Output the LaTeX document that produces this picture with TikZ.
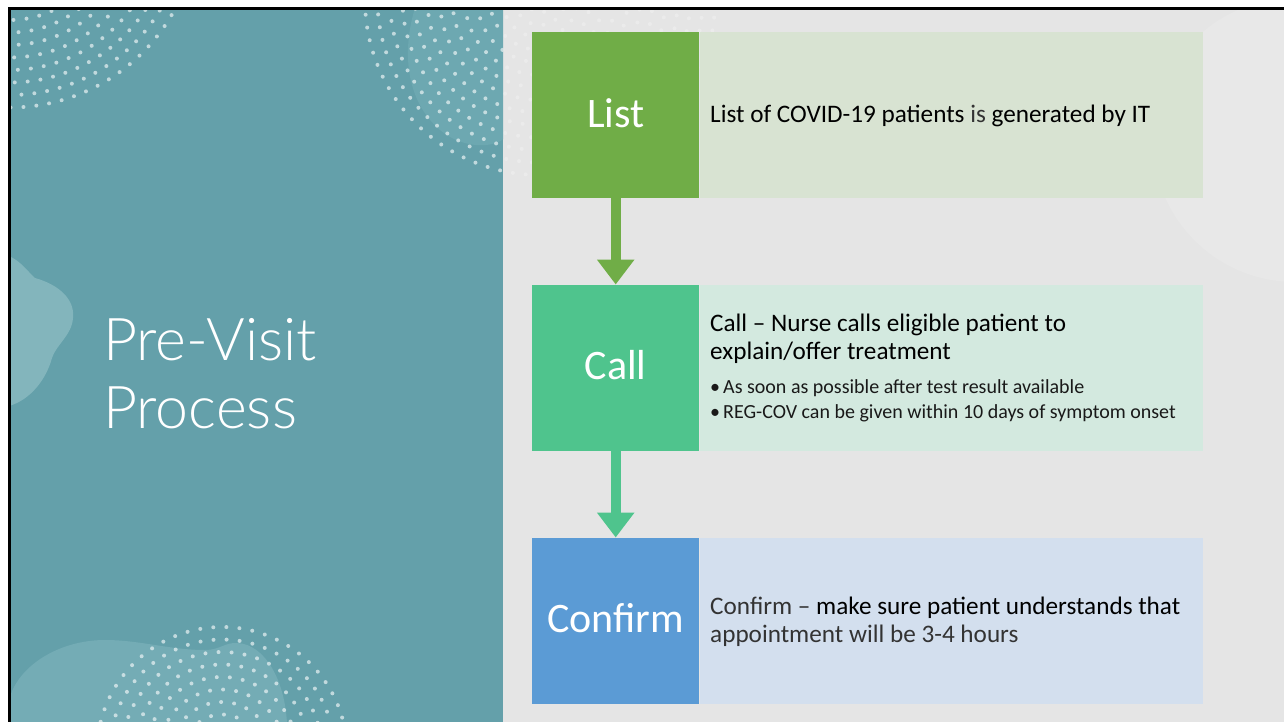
\documentclass[tikz,border=0pt]{standalone}
\usepackage{fontspec}
\setmainfont{Carlito}
\newfontfamily\titlefont{Lato Light}
\usetikzlibrary{arrows.meta}

\definecolor{slateteal}{HTML}{64A0AA}
\definecolor{blobteal}{HTML}{6DA8B1}
\definecolor{blobpale}{HTML}{83B5BC}
\definecolor{panelgray}{HTML}{E5E5E5}
\definecolor{panelglow}{HTML}{E8E8E8}
\definecolor{listdark}{HTML}{70AD47}
\definecolor{listlight}{HTML}{D8E3D2}
\definecolor{calldark}{HTML}{4FC48D}
\definecolor{calllight}{HTML}{D3E9DF}
\definecolor{confdark}{HTML}{5B9BD5}
\definecolor{conflight}{HTML}{D3DFEE}
\definecolor{softgray}{HTML}{333333}

% a disc of small dots laid out on concentric rings: centre x, centre y, ring count
\newcommand\dotdisc[3]{%
  \foreach \i in {1,...,#3} {
    \pgfmathsetmacro\rr{\i*12.5}
    \pgfmathtruncatemacro\nn{round(2*pi*\rr/13)}
    \pgfmathsetmacro\stp{360/\nn}
    \foreach \k in {1,...,\nn} {
      \pgfmathsetmacro\ang{\k*\stp+\i*11}
      \fill ({#1+\rr*cos(\ang)},{#2+\rr*sin(\ang)}) circle[radius=2];
    }
  }%
}

\tikzset{
  stepbox/.style={minimum width=167pt, minimum height=166pt, inner sep=0pt,
    text=white, font=\fontsize{42}{48}\selectfont, text height=24pt, text depth=0pt},
  descbox/.style={minimum width=503pt, minimum height=166pt, inner sep=0pt},
  desctext/.style={font=\fontsize{25.2}{29}\selectfont, inner sep=0pt, text=black},
  bullettext/.style={font=\fontsize{20}{24}\selectfont, inner sep=0pt, text=black!90},
  flowarrow/.style={line width=10pt, -{Triangle[width=36pt,length=25pt]}},
  titletext/.style={font=\titlefont\fontsize{59}{66}\selectfont, text=white, inner sep=0pt}
}

\begin{document}
\begin{tikzpicture}[x=1pt,y=-1pt]
\useasboundingbox (0,0) rectangle (1284,722);
\fill[white] (0,0) rectangle (1284,722);

% right panel with a faint lighter disc
\fill[panelgray] (503,10) rectangle (1284,722);
\begin{scope}
  \clip (503,10) rectangle (1284,722);
  \fill[panelglow] (1295,140) circle[radius=142];
  \begin{scope}[white, fill opacity=0.25]
    \dotdisc{540}{0}{14}
  \end{scope}
\end{scope}

% left title panel and its decorations
\fill[slateteal] (11,10) rectangle (503,722);
\begin{scope}
  \clip (11,10) rectangle (503,722);
  % soft blobs
  \fill[blobteal] (415,8) .. controls (402,50) and (405,100) .. (440,130)
    .. controls (460,147) and (490,150) .. (505,138) -- (505,8) -- cycle;
  \fill[blobpale] (9,256) .. controls (22,262) and (28,272) .. (35,278)
    .. controls (60,285) and (75,300) .. (73,318)
    .. controls (72,335) and (56,345) .. (52,358)
    .. controls (46,380) and (30,400) .. (9,406) -- cycle;
  \fill[blobteal!95!white] (9,724) -- (9,700) .. controls (18,665) and (60,640) .. (105,640)
    .. controls (140,640) and (170,650) .. (205,650)
    .. controls (220,650) and (225,642) .. (238,643)
    .. controls (265,645) and (285,680) .. (287,724) -- cycle;
  % dot clusters
  \begin{scope}[white, fill opacity=0.6]
    \dotdisc{10}{-80}{15}
    \dotdisc{540}{0}{14}
    \dotdisc{222}{752}{10}
  \end{scope}
\end{scope}

% frame lines
\fill[black] (8,7) rectangle (1284,9.6);
\fill[black] (8,7) rectangle (11,722);

% title
\node[titletext, anchor=base west] (title1) at (103,360) {Pre-Visit};
\node[titletext, anchor=base west] (title2) at (103,428) {Process};

% process steps
\node[stepbox, fill=listdark, anchor=north west] (list) at (532,32) {List};
\node[descbox, fill=listlight, anchor=north west] (listd) at (list.north east) {};
\node[stepbox, fill=calldark, anchor=north west] (call) at (532,284.5) {Call};
\node[descbox, fill=calllight, anchor=north west] (calld) at (call.north east) {};
\node[stepbox, fill=confdark, anchor=north west] (conf) at (532,537.5) {Confirm};
\node[descbox, fill=conflight, anchor=north west] (confd) at (conf.north east) {};

% connectors
\draw[flowarrow, listdark] (list.south) -- (call.north);
\draw[flowarrow, calldark] (call.south) -- (conf.north);

% step descriptions
\node[desctext, anchor=base west] (listtxt) at (710,123)
  {List of COVID-19 patients {\color{softgray}is} generated by IT};

\node[desctext, anchor=base west] (callh1) at (710,331) {Call -- Nurse calls eligible patient to};
\node[desctext, anchor=base west] (callh2) at (710,359) {explain/offer treatment};
\node[bullettext, anchor=base west] (callb1) at (710,393)
  {\textbullet\hspace{3pt}As soon as possible after test result available};
\node[bullettext, anchor=base west] (callb2) at (710,418)
  {\textbullet\hspace{3pt}REG-COV can be given within 10 days of symptom onset};

\node[desctext, anchor=base west] (conft1) at (710,614)
  {{\color{softgray}Confirm --} make sure patient understands that};
\node[desctext, anchor=base west, text=softgray] (conft2) at (710,642)
  {appointment will be 3-4 hours};
\end{tikzpicture}
\end{document}
